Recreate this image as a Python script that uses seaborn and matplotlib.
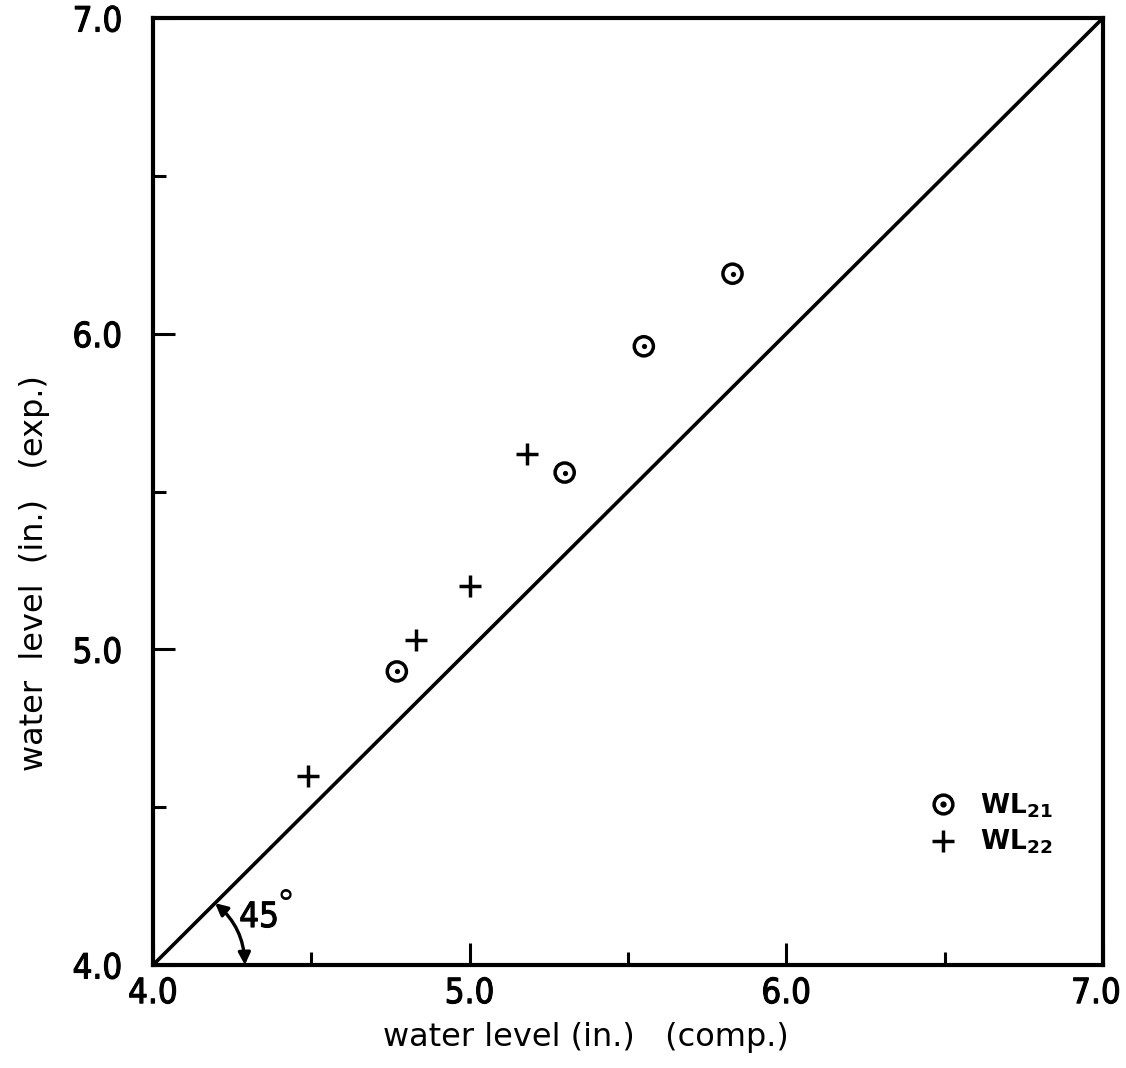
import matplotlib
matplotlib.use("Agg")
import matplotlib.pyplot as plt
import matplotlib.transforms as mtransforms
import matplotlib.patheffects as pe
from matplotlib import font_manager
from matplotlib.font_manager import FontProperties
from matplotlib.lines import Line2D
from matplotlib.legend_handler import HandlerTuple
import seaborn as sns
import pandas as pd

# ---- data ----
wl21_comp = [4.77, 5.30, 5.55, 5.83]
wl21_exp = [4.93, 5.56, 5.96, 6.19]
wl22_comp = [4.49, 4.83, 5.00, 5.18]
wl22_exp = [4.60, 5.03, 5.20, 5.62]
line_x = [4.0, 7.0]
line_y = [4.0, 7.0]
major_ticks = [4.0, 5.0, 6.0, 7.0]
minor_ticks = [4.5, 5.5, 6.5]
tick_labels = ["4.0", "5.0", "6.0", "7.0"]

sns.set_theme(style="white")
plt.rcParams["font.family"] = ["DejaVu Sans"]
plt.rcParams["mathtext.fontset"] = "dejavusans"


def find_condensed(weight_pref):
    order = ["DejaVu Sans", "Noto Sans", "Open Sans", "Roboto", "Liberation Sans Narrow",
             "Liberation Sans", "Lato", "Inter"]
    cands = []
    for f in font_manager.fontManager.ttflist:
        st = str(f.stretch).lower()
        nm = f.name
        if (st in ("condensed", "semi-condensed", "extra-condensed")
                or "Condensed" in nm or "Narrow" in nm
                or "ondensed" in f.fname or "Narrow" in f.fname):
            if f.style != "normal":
                continue
            if "Mono" in nm or "Serif" in nm:
                continue
            cands.append(f)
    best = None
    for name in order:
        for f in cands:
            if f.name.startswith(name):
                w = f.weight if isinstance(f.weight, int) else 400
                score = abs(w - weight_pref)
                if best is None or score < best[0]:
                    best = (score, f)
        if best is not None:
            return best[1].fname
    return None


cond_path = find_condensed(400)
if cond_path:
    def tfp(size):
        return FontProperties(fname=cond_path, size=size)
    tick_size = 25
else:
    def tfp(size):
        return FontProperties(family="DejaVu Sans", size=size)
    tick_size = 22

thick = [pe.Stroke(linewidth=0.8, foreground="black"), pe.Normal()]

fig = plt.figure(figsize=(11.26, 10.68), dpi=100)
ax = fig.add_axes([153 / 1126, 1 - 965 / 1068, 950 / 1126, 947 / 1068])

df21 = pd.DataFrame({"comp": wl21_comp, "exp": wl21_exp})
df22 = pd.DataFrame({"comp": wl22_comp, "exp": wl22_exp})
dfl = pd.DataFrame({"x": line_x, "y": line_y})

sns.lineplot(data=dfl, x="x", y="y", ax=ax, color="black", linewidth=2.6, clip_on=False)
sns.scatterplot(data=df21, x="comp", y="exp", ax=ax, marker="o", s=190,
                facecolor="none", edgecolor="black", linewidth=2.5, zorder=3)
sns.scatterplot(data=df21, x="comp", y="exp", ax=ax, marker="o", s=14,
                color="black", linewidth=0, zorder=4)
sns.scatterplot(data=df22, x="comp", y="exp", ax=ax, marker="+", s=240,
                color="black", linewidth=2.5, zorder=3)

ax.set_xlim(4.0, 7.0)
ax.set_ylim(4.0, 7.0)
ax.set_xticks(major_ticks)
ax.set_yticks(major_ticks)
ax.set_xticks(minor_ticks, minor=True)
ax.set_yticks(minor_ticks, minor=True)
ax.tick_params(axis="both", which="major", direction="in", length=16, width=2.2,
               color="black", labelcolor="black")
ax.tick_params(axis="both", which="minor", direction="in", length=9.5, width=2.2,
               color="black")
ax.tick_params(axis="x", which="major", pad=8)
ax.tick_params(axis="y", which="major", pad=22)
ax.tick_params(bottom=True, left=True, top=False, right=False)
ax.tick_params(axis="both", which="minor", bottom=True, left=True, top=False, right=False)
ax.set_xticklabels(tick_labels, fontproperties=tfp(tick_size), color="black")
ax.set_yticklabels(tick_labels, fontproperties=tfp(tick_size), color="black")
for lab in ax.get_xticklabels() + ax.get_yticklabels():
    lab.set_path_effects(thick)

# nudge the last x label slightly left, as in the reference
last = ax.get_xticklabels()[-1]
last.set_transform(last.get_transform()
                   + mtransforms.ScaledTranslation(-7 / 100, 0, fig.dpi_scale_trans))

for sp in ax.spines.values():
    sp.set_linewidth(3)
    sp.set_color("black")
    sp.set_visible(True)

ax.set_xlabel("water level (in.)   (comp.)", fontsize=23, color="black")
ax.set_ylabel("water  level  (in.)   (exp.)", fontsize=23, color="black")
ax.xaxis.set_label_coords((586 - 153) / 950, -(1022 - 965) / 947)
ax.yaxis.set_label_coords(-(153 - 50) / 950, (965 - 573) / 947)

# 45 degree angle annotation
ax.annotate("", xy=(4.29, 4.0), xytext=(4.196, 4.196),
            arrowprops=dict(arrowstyle="<|-|>", color="black", lw=2.4,
                            mutation_scale=18, shrinkA=0, shrinkB=0,
                            connectionstyle="arc3,rad=-0.22"))
t45 = ax.text(4.335, 4.152, "45", fontproperties=tfp(tick_size), ha="center", va="center",
              color="black")
t45.set_path_effects(thick)
ax.text(4.42, 4.19, "°", fontsize=26, ha="center", va="center", color="black")

# legend
h21 = (Line2D([], [], marker="o", ls="none", markersize=13.5, markerfacecolor="none",
              markeredgecolor="black", markeredgewidth=2.5),
       Line2D([], [], marker="o", ls="none", markersize=3.5, color="black"))
h22 = Line2D([], [], marker="+", ls="none", markersize=15.5, color="black",
             markeredgewidth=2.5)
leg = ax.legend([h21, h22], [r"$\mathbf{WL}_{\mathbf{21}}$", r"$\mathbf{WL}_{\mathbf{22}}$"],
                handler_map={tuple: HandlerTuple(ndivide=1, pad=0)},
                loc="center left", bbox_to_anchor=((917 - 153) / 950, (965 - 824) / 947),
                frameon=False, fontsize=19, handlelength=1.0, handletextpad=0.9,
                labelspacing=0.3, borderpad=0)
for t in leg.get_texts():
    t.set_color("black")

fig.savefig("out.png", dpi=100, facecolor="white")
